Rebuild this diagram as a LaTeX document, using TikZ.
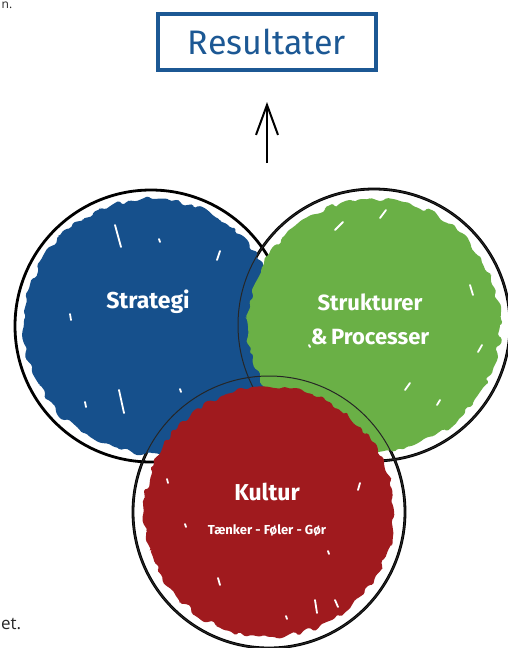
\documentclass[tikz,border=0pt]{standalone}
\usepackage{fontspec}
\setmainfont{Fira Sans}
\newfontfamily\plainfont{Open Sans}
\usetikzlibrary{decorations.pathmorphing,arrows.meta}
\definecolor{sblue}{RGB}{22,80,140}
\definecolor{sgreen}{RGB}{106,176,70}
\definecolor{sred}{RGB}{160,26,30}
\definecolor{boxblue}{RGB}{28,88,148}
\begin{document}
\begin{tikzpicture}[x=1pt,y=-1pt,
  paint/.style={decorate,decoration={random steps,segment length=5pt,amplitude=2.8pt},rounded corners=1.5pt},
  ring/.style={circle,draw=black,line width=2.8pt,minimum size=272,inner sep=0pt},
  thinring/.style={circle,draw=black!85,line width=1pt,minimum size=272,inner sep=0pt},
  speck/.style={white,line width=1.8pt,line cap=round},
  lbl/.style={text=white,font=\fontsize{23}{25}\selectfont\bfseries,inner sep=0pt},
  small/.style={text=white,font=\fontsize{13}{15}\selectfont\bfseries,inner sep=0pt},
  edge/.style={text=black!85,font=\plainfont\fontsize{17}{19}\selectfont,inner sep=0pt}]
\pgfmathsetseed{7}
\useasboundingbox (0,0) rectangle (508,648);
\fill[white] (0,0) rectangle (508,648);
% thick outlines first
\node[ring] (strat) at (151,326) {};
\node[ring] (struk) at (374,325) {};
\node[ring] (kult) at (269,512) {};
% blue paint
\fill[sblue,paint] (strat.center) circle[radius=127];
% green paint and thin green outline over the blue paint
\fill[sgreen,paint] (struk.center) circle[radius=126];
\node[thinring] (strukline) at (struk.center) {};
% red paint and thin red outline over the others
\fill[sred,paint] (kult.center) circle[radius=125];
\node[thinring] (kultline) at (kult.center) {};
% white specks
\foreach \a/\b/\c/\d in {115/225/121/247, 159/239/160/242, 220/251/217/260, 70/314/71/320,
  119/390/124/413, 180/389/181/392, 85/402/86/407,
  335/230/343/222, 380/218/386/210, 470/285/473/295, 478/352/482/345, 405/390/410/383,
  437/405/440/400, 309/345/310/347,
  167/479/168/483, 360/483/358/490, 185/524/186/527, 328/551/329/554, 218/578/220/585,
  315/600/317/613, 335/600/338/607, 286/616/287/619}
  \draw[speck] (\a,\b) -- (\c,\d);
% labels
\node[lbl] (tstrat) at (148,302) {Strategi};
\node[lbl,font=\fontsize{22}{24}\selectfont\bfseries] (tstruk1) at (370,302) {Strukturer};
\node[lbl,font=\fontsize{22}{24}\selectfont\bfseries] (tstruk2) at (370,337) {\&\,Processer};
\node[lbl] (tkult) at (267,492) {Kultur};
\node[small] (tsub) at (267,530) {Tænker - Føler - Gør};
% result box
\node[draw=boxblue,line width=3.2pt,minimum width=218,minimum height=56,inner sep=0pt,
  text=boxblue,font=\fontsize{34}{36}\selectfont] (res) at (267,42) {Resultater};
% arrow
\coordinate (atail) at (267,163);
\coordinate (ahead) at (267,102);
\draw[line width=2.2pt,-{Straight Barb[length=30pt,width=22pt,line width=2pt]}] (atail) -- (ahead);
% text fragments at the edges
\node[edge,anchor=north west,font=\plainfont\fontsize{12}{13}\selectfont] (frag1) at (1.5,2) {n.};
\node[edge,anchor=west] (frag2) at (1,624) {et.};
\end{tikzpicture}
\end{document}
